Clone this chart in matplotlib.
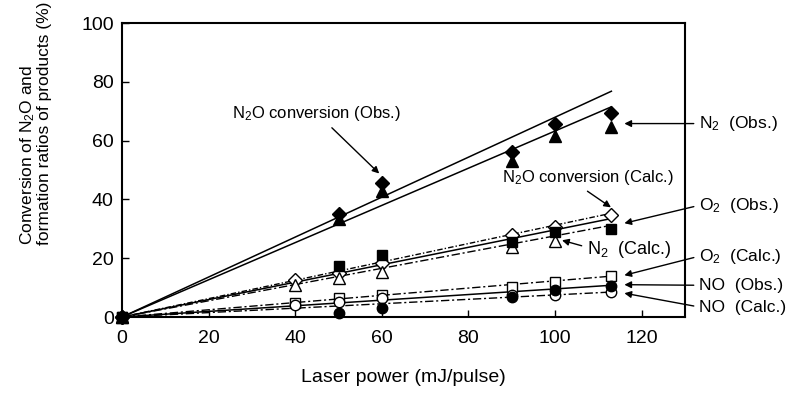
import matplotlib
matplotlib.use("Agg")
import matplotlib.pyplot as plt

plt.rcParams['font.family'] = ['Liberation Sans', 'DejaVu Sans']
plt.rcParams['mathtext.default'] = 'regular'

# observed points (filled markers)
power_obs = [0, 50, 60, 90, 100, 113]
n2o_obs = [0, 35, 45.5, 56, 65.5, 69.5]
n2_obs = [0, 33.5, 43, 53, 61.5, 64.5]
o2_obs = [0, 17.5, 21.2, 25.4, 28.8, 29.8]
no_obs = [0, 1.4, 3, 6.8, 9.2, 10.5]

# calculated points (open markers)
power_calc = [0, 40, 50, 60, 90, 100, 113]
n2o_calc = [0, 12.5, 15, 18.3, 27.8, 30.5, 34.6]
n2_calc = [0, 10.8, 13.2, 15.3, 23.8, 25.8]
o2_calc = [0, 4.7, 6.4, 7.5, 10.2, 11.9, 13.9]
no_calc = [0, 4, 5, 6.4, 7.5, 7.5, 8.5]

# straight fit lines (start, end)
fit_x = [0, 113]
fit_n2o_obs = [0, 76.8]
fit_n2_obs = [0, 71.5]
fit_o2_obs = [0, 33.5]
fit_no_obs = [0, 10.8]
fit_n2o_calc = [0, 35.3]
fit_n2_calc = [0, 31.2]
fit_o2_calc = [0, 13.9]
fit_no_calc = [0, 8.5]

fig = plt.figure(figsize=(7.9, 4.09), dpi=100)
ax = fig.add_axes([0.1544, 0.2249, 0.7127, 0.7188])

dd = (6, 2, 1.5, 2)
ax.plot(fit_x, fit_n2o_obs, color='black', lw=1.1)
ax.plot(fit_x, fit_n2_obs, color='black', lw=1.1)
ax.plot(fit_x, fit_o2_obs, color='black', lw=1.1)
ax.plot(fit_x, fit_no_obs, color='black', lw=1.1)
ax.plot(fit_x, fit_n2o_calc, color='black', lw=1, dashes=(4, 1.5, 1, 1.5))
ax.plot(fit_x, fit_n2_calc, color='black', lw=1, dashes=dd)
ax.plot(fit_x, fit_o2_calc, color='black', lw=1, dashes=dd)
ax.plot(fit_x, fit_no_calc, color='black', lw=1, dashes=dd)

openkw = dict(ls='none', mfc='white', mec='black', mew=1, clip_on=False)
ax.plot(power_calc, n2o_calc, marker='D', ms=7, **openkw)
ax.plot(power_calc[:len(n2_calc)], n2_calc, marker='^', ms=8.5, **openkw)
ax.plot(power_calc, o2_calc, marker='s', ms=7.5, **openkw)
ax.plot(power_calc, no_calc, marker='o', ms=7.5, **openkw)

fillkw = dict(ls='none', color='black', clip_on=False)
ax.plot(power_obs, n2_obs, marker='^', ms=8.5, **fillkw)
ax.plot(power_obs, n2o_obs, marker='D', ms=7, **fillkw)
ax.plot(power_obs, o2_obs, marker='s', ms=7.5, **fillkw)
ax.plot(power_obs, no_obs, marker='o', ms=7.5, **fillkw)

ax.set_xlim(0, 130)
ax.set_ylim(0, 100)
ax.set_xticks(range(0, 121, 20))
ax.set_yticks(range(0, 101, 20))
ax.tick_params(direction='in', length=5, width=1, labelsize=14)
ax.tick_params(axis='x', pad=9)
ax.tick_params(axis='y', pad=6)
for s in ax.spines.values():
    s.set_linewidth(1.5)

ax.set_xlabel('Laser power (mJ/pulse)', fontsize=14, labelpad=16)
fig.text(0.044, 0.40, 'Conversion of N$_2$O and\nformation ratios of products (%)',
         rotation=90, ha='center', va='bottom', multialignment='left',
         fontsize=12.5, linespacing=1.0)

arr = dict(arrowstyle='-|>', color='black', lw=1, mutation_scale=10, shrinkA=2, shrinkB=0)

ax.annotate('N$_2$O conversion (Obs.)', xy=(59.4, 48.8), xytext=(45, 69.2),
            ha='center', va='center', fontsize=12,
            arrowprops=dict(arr, relpos=(0.56, 0)))
ax.annotate('N$_2$O conversion (Calc.)', xy=(112.9, 37.3), xytext=(107.6, 47.5),
            ha='center', va='center', fontsize=12,
            arrowprops=dict(arr, relpos=(0.46, 0)))
ax.annotate('N$_2$  (Calc.)', xy=(101.6, 26.1), xytext=(107.4, 23),
            ha='left', va='center', fontsize=13,
            arrowprops=dict(arr, relpos=(0, 0.6)))

right_labels = ['N$_2$  (Obs.)', 'O$_2$  (Obs.)', 'O$_2$  (Calc.)', 'NO  (Obs.)', 'NO  (Calc.)']
right_text_y = [65.8, 38, 20.7, 10.8, 3.4]
right_head_y = [65.8, 31.9, 14.2, 11, 8.1]
for lab, ty, hy in zip(right_labels, right_text_y, right_head_y):
    ax.annotate(lab, xy=(116, hy), xytext=(133.3, ty), ha='left', va='center',
                fontsize=12.5, annotation_clip=False,
                arrowprops=dict(arr, relpos=(0, 0.5)))

fig.savefig('out.png', dpi=100)
